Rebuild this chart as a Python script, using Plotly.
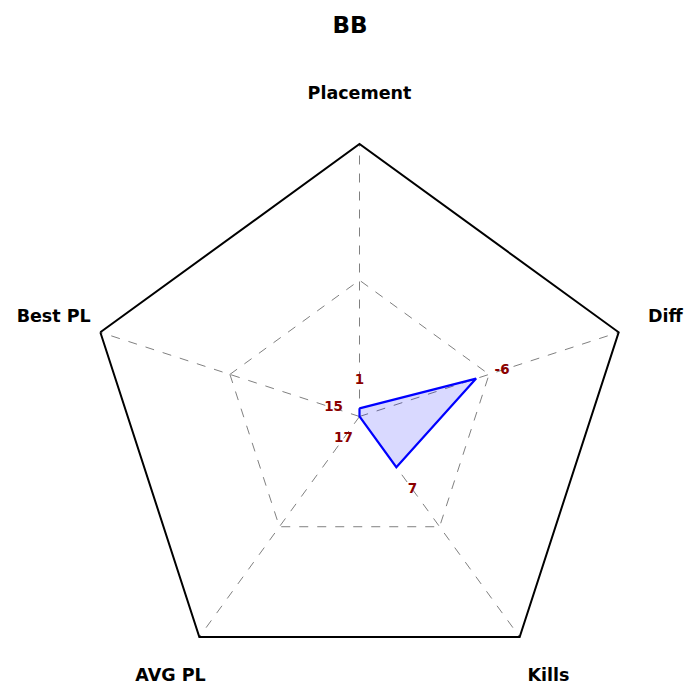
import math
import plotly.graph_objects as go

categories = ["Placement", "Diff", "Kills", "AVG PL", "Best PL"]
raw_values = [1, -6, 7, 17, 15]
norm_values = [0.03, 0.45, 0.23, 0.0, 0.0]
label_offset = 0.1
axis_label_r = 1.18

W = H = 700
R = 272.5
cx, cy = 359.5, H - 416.5   # centre in pixels (from left, from bottom)

fig = go.Figure()

fig.add_trace(go.Scatterpolar(
    r=norm_values + [norm_values[0]],
    theta=categories + [categories[0]],
    mode="lines",
    line=dict(color="blue", width=2.2),
    fill="toself",
    fillcolor="rgba(0,0,255,0.15)",
    hoverinfo="skip",
    showlegend=False,
))

fig.add_trace(go.Scatterpolar(
    r=[v + label_offset for v in norm_values],
    theta=categories,
    mode="text",
    text=[str(v) for v in raw_values],
    textfont=dict(family="DejaVu Sans", size=13.5, color="#8B0000", weight="bold"),
    textposition="middle center",
    cliponaxis=False,
    showlegend=False,
))

# category labels, centred outside the polygon through an overlaid cartesian frame
n = len(categories)
angles = [math.radians(90 - i * 360 / n) for i in range(n)]
fig.add_trace(go.Scatter(
    x=[axis_label_r * math.cos(a) for a in angles],
    y=[axis_label_r * math.sin(a) for a in angles],
    mode="text",
    text=categories,
    textfont=dict(family="DejaVu Sans", size=17.5, color="black", weight="bold"),
    textposition="middle center",
    cliponaxis=False,
    hoverinfo="skip",
    showlegend=False,
))

dom_x = [(cx - R) / W, (cx + R) / W]
dom_y = [(cy - R) / H, (cy + R) / H]
fig.update_layout(
    width=W, height=H,
    margin=dict(l=0, r=0, t=0, b=0),
    paper_bgcolor="white",
    plot_bgcolor="rgba(0,0,0,0)",
    title=dict(text="<b>BB</b>", x=0.5, xanchor="center", y=0.964, yanchor="middle",
               font=dict(family="DejaVu Sans", size=23, color="black")),
    xaxis=dict(domain=[0, 1], range=[-cx / R, (W - cx) / R], visible=False, fixedrange=True),
    yaxis=dict(domain=[0, 1], range=[-cy / R, (H - cy) / R], visible=False, fixedrange=True),
    polar=dict(
        domain=dict(x=dom_x, y=dom_y),
        gridshape="linear",
        bgcolor="white",
        radialaxis=dict(range=[0, 1], tickvals=[0.5], showticklabels=False, ticks="",
                        showline=False, gridcolor="gray", griddash="dash", gridwidth=1),
        angularaxis=dict(rotation=90, direction="clockwise", categoryarray=categories,
                         showticklabels=False, ticks="",
                         showline=True, linecolor="black", linewidth=2,
                         gridcolor="gray", griddash="dash", gridwidth=1),
    ),
)

fig.write_html("out.html")
